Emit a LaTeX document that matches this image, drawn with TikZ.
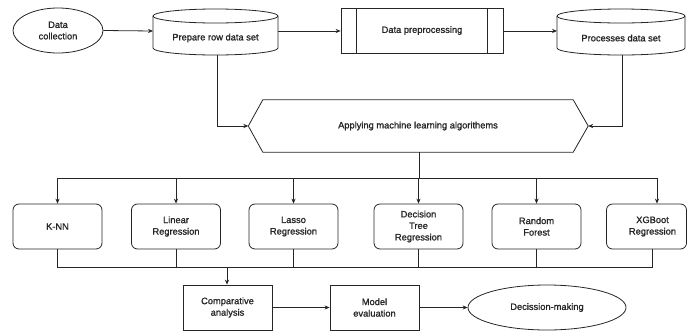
\documentclass[tikz,border=0pt]{standalone}
\usepackage{fontspec}
\setmainfont{Liberation Sans}[FakeBold=1.2]
\usetikzlibrary{arrows.meta,shapes.geometric,calc}
\begin{document}
\begin{tikzpicture}[x=1pt,y=-1pt,
  every node/.style={font=\fontsize{9.3}{11.5}\selectfont, text=black!85, align=center, inner sep=0pt},
  ln/.style={draw=black!85, line width=0.8pt},
  arr/.style={ln, -{Stealth[length=5pt,width=4.2pt]}},
  algo/.style={ln, rounded corners=6pt, minimum width=89pt, minimum height=45pt},
  pbox/.style={ln, minimum width=89pt, minimum height=45pt},
  oval/.style={ln, ellipse, inner sep=0pt}]
\useasboundingbox (0,0) rectangle (687,335);

% Data collection
\node[oval, minimum width=90pt, minimum height=45pt] (dc) at (58,30.5) {Data\\collection};

% Prepare row data set (cylinder)
\draw[ln, fill=white] (153,16) -- (153,48) arc[start angle=180,end angle=0,x radius=62.5,y radius=7] -- (278,16)
   arc[start angle=0,end angle=-180,x radius=62.5,y radius=7] -- cycle;
\draw[ln] (153,16) arc[start angle=180,end angle=0,x radius=62.5,y radius=7];
\node[minimum width=125pt, minimum height=46pt] (prep) at (215.5,32) {};
\node at (215.5,38) {Prepare row data set};
\coordinate (prepB) at (217,55);

% Data preprocessing
\node[ln, minimum width=162pt, minimum height=45pt] (pre) at (422,30.5) {Data preprocessing};
\draw[ln] ([xshift=16pt]pre.north west) -- ([xshift=16pt]pre.south west);
\draw[ln] ([xshift=-16pt]pre.north east) -- ([xshift=-16pt]pre.south east);

% Processes data set (cylinder)
\draw[ln, fill=white] (557,16) -- (557,48) arc[start angle=180,end angle=0,x radius=64,y radius=7] -- (685,16)
   arc[start angle=0,end angle=-180,x radius=64,y radius=7] -- cycle;
\draw[ln] (557,16) arc[start angle=180,end angle=0,x radius=64,y radius=7];
\node[minimum width=128pt, minimum height=46pt] (proc) at (621,32) {};
\node at (621,38) {Processes data set};
\coordinate (procB) at (622,55);

% Hexagon
\node[minimum width=310pt, minimum height=52pt] (hex) at (418,126) {Applying machine learning algorithems};
\coordinate (hexL) at ([xshift=-14.5pt]hex.west);
\coordinate (hexR) at ([xshift=15pt]hex.east);
\draw[ln] (hex.north west) -- (hex.north east) -- (hexR) -- (hex.south east) -- (hex.south west) -- (hexL) -- cycle;

% Algorithms
\node[algo] (knn) at (57.5,226.5) {K-NN};
\node[algo] (lin) at (176,226.5) {Linear\\Regression};
\node[algo] (las) at (293.5,226.5) {Lasso\\Regression};
\node[algo] (dt) at (418.5,226.5) {Decision\\Tree\\Regression};
\node[algo] (rf) at (536.5,226.5) {Random\\Forest};
\node[algo, minimum width=80pt] (xg) at (646.5,226.5) {\hspace*{12pt}XGBoot\\\hspace*{12pt}Regression};

% Bottom row
\node[pbox] (ca) at (227.5,307.5) {Comparative\\analysis};
\node[pbox] (me) at (374.5,307.5) {Model\\evaluation};
\node[oval, minimum width=158pt, minimum height=45pt] (dm) at (547,307.5) {Decission-making};

% Top connectors
\draw[arr] (dc.east) -- (153,31);
\draw[arr] (278,31) -- (pre.west |- 0,31);
\draw[arr] (pre.east |- 0,31) -- (557,31);
\draw[arr] (prepB) |- (hexL);
\draw[arr] (procB) |- (hexR);

% Distribution bus
\coordinate (bus) at (419,178);
\draw[ln] (hex.south -| bus) -- (bus);
\coordinate (xgin) at ([xshift=10.5pt]xg.north);
\draw[ln] (knn.north |- bus) -- (xgin |- bus);
\foreach \n in {knn,lin,las,dt,rf}{
  \draw[arr] (\n.north |- bus) -- (\n.north);
}
\draw[arr] (xgin |- bus) -- (xgin);

% Collection bus
\coordinate (cbus) at (227,267);
\coordinate (xgout) at ([xshift=5.5pt]xg.south);
\draw[ln] (knn.south) -- (knn.south |- cbus) -- (xgout |- cbus) -- (xgout);
\foreach \n in {lin,las,dt,rf}{
  \draw[ln] (\n.south) -- (\n.south |- cbus);
}
\draw[arr] (cbus) -- (ca.north -| cbus);

% Bottom connectors
\draw[arr] (ca.east) -- (me.west);
\draw[arr] (me.east) -- (dm.west);
\end{tikzpicture}
\end{document}
